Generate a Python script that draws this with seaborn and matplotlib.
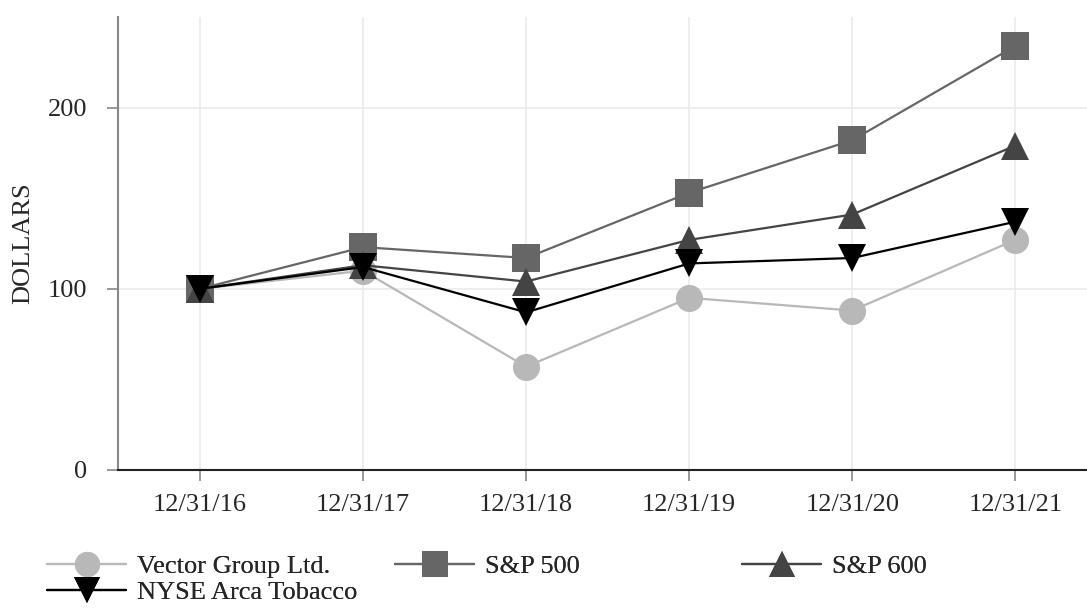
import numpy as np
import pandas as pd
import matplotlib
matplotlib.use("Agg")
import matplotlib.pyplot as plt
import seaborn as sns

# Values
dates = ["12/31/16", "12/31/17", "12/31/18", "12/31/19", "12/31/20", "12/31/21"]
vector_group = [100, 110, 57, 95, 88, 127]
sp500 = [100, 123, 117, 153, 182, 234]
sp600 = [100, 113, 104, 127, 141, 179]
nyse_tobacco = [100, 112, 87, 114, 117, 137]

series_names = ["Vector Group Ltd.", "S&P 500", "S&P 600", "NYSE Arca Tobacco"]
series_values = [vector_group, sp500, sp600, nyse_tobacco]
colors = ["#b8b8b8", "#666666", "#444444", "#000000"]
marker_styles = ["o", "s", "^", "v"]

df = pd.concat(
    [pd.DataFrame({"date": dates, "value": vals, "series": name})
     for name, vals in zip(series_names, series_values)],
    ignore_index=True,
)

sns.set_theme(style="white")
plt.rcParams["font.family"] = ["Liberation Serif", "DejaVu Serif"]

fig = plt.figure(figsize=(10.87, 6.08), dpi=100)
ax = fig.add_axes([0.1086, 0.227, 0.8914, 0.745])

palette = dict(zip(series_names, colors))
markers = dict(zip(series_names, marker_styles))
sns.lineplot(data=df, x="date", y="value", hue="series", style="series",
             hue_order=series_names, style_order=series_names,
             palette=palette, markers=markers, dashes=False,
             markersize=19.5, markeredgewidth=0, linewidth=1.6,
             sort=False, legend=False, ax=ax)

ax.set_xlim(-0.503, 5.44)
ax.set_ylim(0, 250)
ax.set_yticks([0, 100, 200])
ax.grid(True, color="#ebebeb", linewidth=1.2)
ax.set_axisbelow(True)
ax.set_xlabel("")
ax.set_ylabel("DOLLARS", fontsize=19, labelpad=10)
ax.tick_params(axis="both", labelsize=19, length=8, width=1.2,
               color="#888888", direction="out")
ax.tick_params(axis="y", left=True, pad=14)
ax.tick_params(axis="x", bottom=True, pad=9)
for side in ["top", "right"]:
    ax.spines[side].set_visible(False)
ax.spines["left"].set_color("#888888")
ax.spines["left"].set_linewidth(1.5)
ax.spines["bottom"].set_color("#222222")
ax.spines["bottom"].set_linewidth(1.5)

# legend: three groups laid out on an even grid, like the reference
lines = ax.get_lines()
handles = dict(zip(series_names, lines))
leg_kw = dict(frameon=False, fontsize=19, handlelength=3.0, handletextpad=0.42,
              markerscale=0.93, labelspacing=0.08, borderpad=0, borderaxespad=0)
groups = [
    (["Vector Group Ltd.", "NYSE Arca Tobacco"], 47 / 1087),
    (["S&P 500"], 395 / 1087),
    (["S&P 600"], 742 / 1087),
]
for names, x0 in groups:
    lg = fig.legend([handles[n] for n in names], names, loc="upper left",
                    bbox_to_anchor=(x0, 1 - 555 / 608), **leg_kw)
    fig.add_artist(lg)

fig.savefig("out.png", dpi=100)
